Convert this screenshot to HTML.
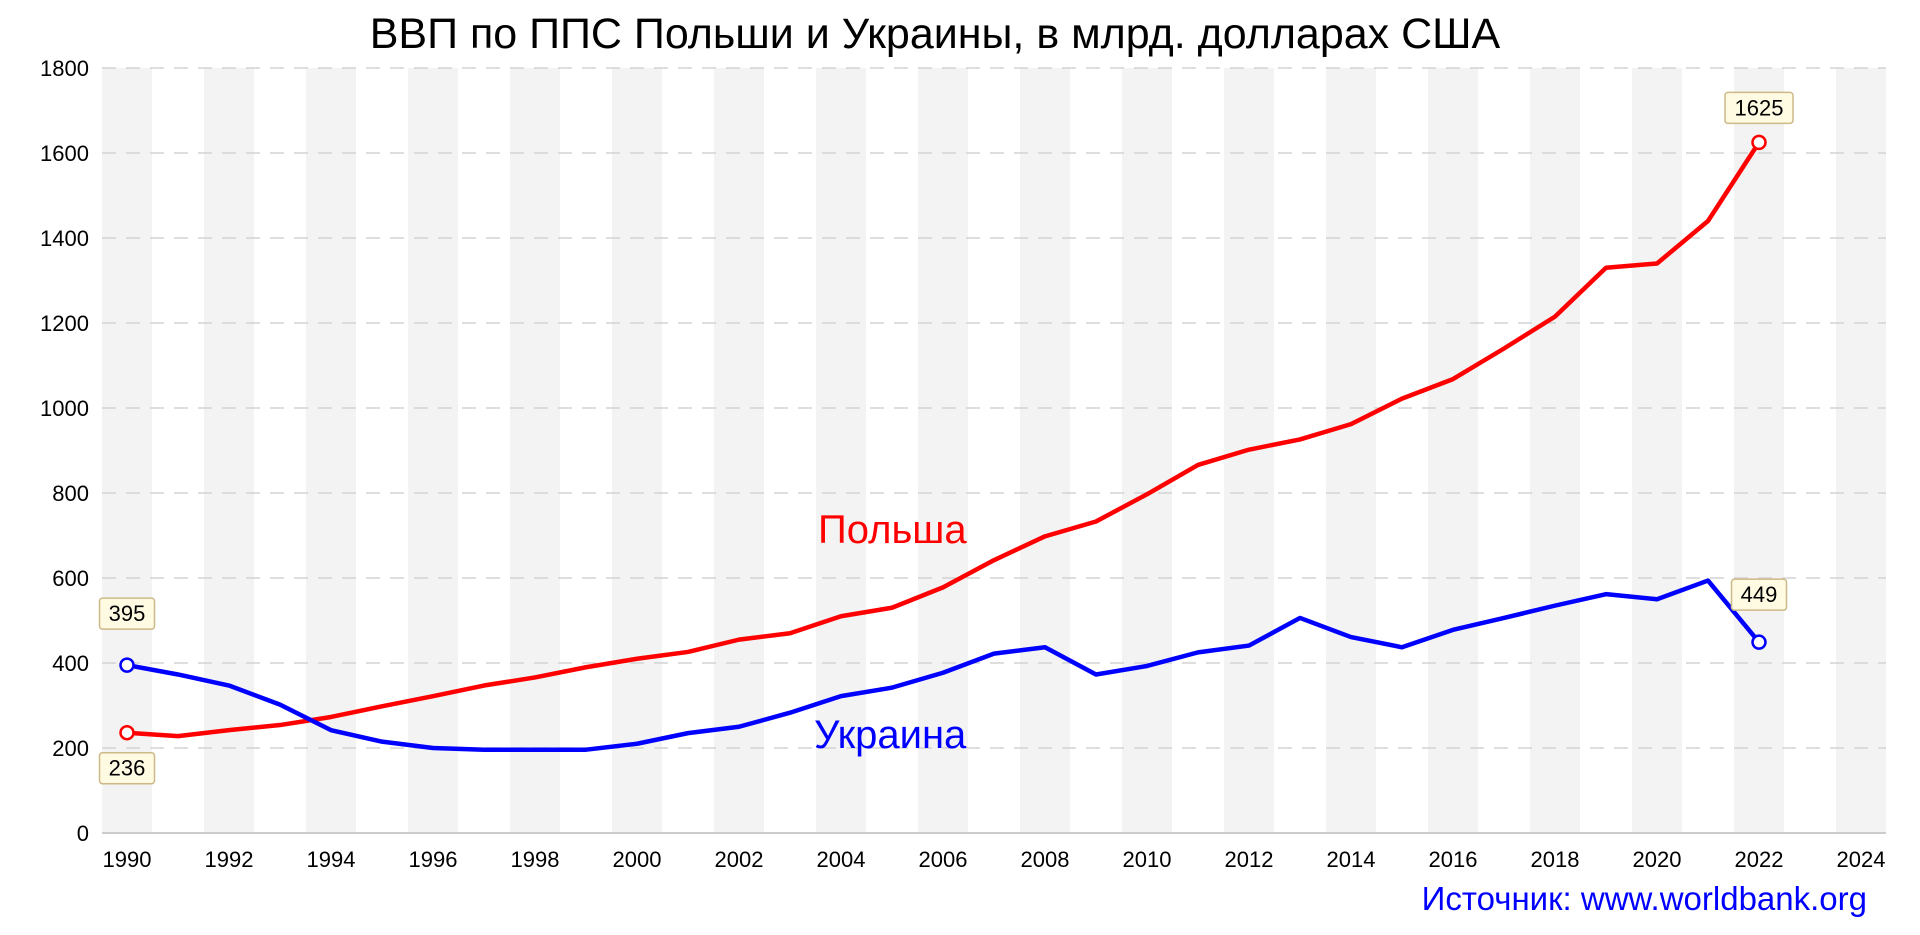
<!DOCTYPE html>
<html><head><meta charset="utf-8"><style>
html,body{margin:0;padding:0;background:#fff;width:1920px;height:935px;overflow:hidden}
svg text{font-family:"Liberation Sans","DejaVu Sans",sans-serif}
</style></head><body>
<svg id="chart" width="1920" height="935" xmlns="http://www.w3.org/2000/svg">
<text x="935" y="48" font-size="43" text-anchor="middle" fill="#000">ВВП по ППС Польши и Украины, в млрд. долларах США</text>
<g id="bands"></g><g id="grid"></g><g id="axes"></g><g id="series"></g><g id="labels"></g>
<text x="818" y="543" font-size="40" fill="#ff0000">Польша</text>
<text x="814" y="748" font-size="40" fill="#0000ff">Украина</text>
<text x="1867" y="910" font-size="33" text-anchor="end" fill="#0000ff">Источник: www.worldbank.org</text>
</svg>
<script>
const years=[1990,1991,1992,1993,1994,1995,1996,1997,1998,1999,2000,2001,2002,2003,2004,2005,2006,2007,2008,2009,2010,2011,2012,2013,2014,2015,2016,2017,2018,2019,2020,2021,2022];
const poland=[236,228,242,254,273,298,322,347,366,390,410,426,455,470,510,530,578,642,698,733,797,866,902,926,962,1022,1068,1140,1215,1330,1340,1440,1625];
const ukraine=[395,373,347,302,242,215,200,196,196,196,210,235,250,283,322,342,377,422,437,373,393,425,441,506,461,437,478,506,535,562,550,594,449];
const yTicks=[0,200,400,600,800,1000,1200,1400,1600,1800];
const xTicks=[1990,1992,1994,1996,1998,2000,2002,2004,2006,2008,2010,2012,2014,2016,2018,2020,2022,2024];
const NS='http://www.w3.org/2000/svg';
const X=y=>127+(y-1990)*51;
const Y=v=>833-v*(765/1800);
function mk(tag,attrs,parent){const e=document.createElementNS(NS,tag);for(const k in attrs)e.setAttribute(k,attrs[k]);document.getElementById(parent).appendChild(e);return e;}
for(let y=1990;y<=2024;y+=2){
 const r=mk('rect',{x:X(y)-25,y:Y(1800),width:50,height:Y(0)-Y(1800),fill:'#f3f3f3'},'bands');
 
 
}
yTicks.forEach(v=>{
 if(v>0){const l=mk('line',{x1:102,x2:1886,y1:Y(v),y2:Y(v),stroke:'#d3d3d3','stroke-width':1.5,'stroke-dasharray':'14,10'},'grid');
 
 }
 const t=mk('text',{x:89,y:Y(v)+8,'font-size':22,'text-anchor':'end',fill:'#000'},'axes');t.textContent=v;
 
 
});
const ax=mk('line',{x1:102,x2:1886,y1:Y(0),y2:Y(0),stroke:'#cccccc','stroke-width':2},'axes');


xTicks.forEach(y=>{
 const t=mk('text',{x:X(y),y:867,'font-size':22,'text-anchor':'middle',fill:'#000'},'axes');t.textContent=y;
 
 
});
function line(data,color,name){
 const p=mk('polyline',{points:data.map((v,i)=>X(years[i])+','+Y(v)).join(' '),fill:'none',stroke:color,'stroke-width':4.5,'stroke-linejoin':'round'},'series');
 
 
 [0,data.length-1].forEach(i=>{
  const c=mk('circle',{cx:X(years[i]),cy:Y(data[i]),r:6.5,fill:'#fff',stroke:color,'stroke-width':2.5},'series');
  
  
 });
}
line(poland,'#ff0000','poland');
line(ukraine,'#0000ff','ukraine');
function box(year,val,dy,name){
 const cx=X(year),cy=Y(val)+dy;
 const w=String(val).length*13+16;
 const r=mk('rect',{x:cx-w/2,y:cy-15,width:w,height:31,rx:3,fill:'#fffbe3',stroke:'#cdb887','stroke-width':1.5},'labels');
 
 
 const t=mk('text',{x:cx,y:cy+8,'font-size':22,'text-anchor':'middle',fill:'#000'},'labels');t.textContent=val;
 
 
}
box(1990,ukraine[0],-52,'ukraine-start');
box(1990,poland[0],35,'poland-start');
box(2022,poland[poland.length-1],-35,'poland-end');
box(2022,ukraine[ukraine.length-1],-48,'ukraine-end');
</script>
</body></html>
